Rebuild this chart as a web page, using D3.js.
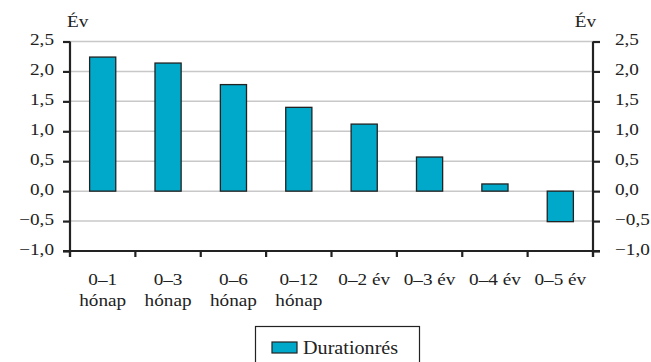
<!DOCTYPE html>
<html>
<head>
<meta charset="utf-8">
<script src="https://cdn.jsdelivr.net/npm/d3@7/dist/d3.min.js"></script>
</head>
<body style="margin:0;padding:0;background:#fff">
<svg id="chart" width="651" height="362" style="display:block"></svg>
<script>
// Duration gap by maturity bucket (years)
const categories = [
  ["0–1", "hónap"], ["0–3", "hónap"], ["0–6", "hónap"], ["0–12", "hónap"],
  ["0–2 év"], ["0–3 év"], ["0–4 év"], ["0–5 év"]
];
const values = [2.24, 2.14, 1.78, 1.40, 1.12, 0.57, 0.12, -0.51];
const yTicks = [-1.0, -0.5, 0.0, 0.5, 1.0, 1.5, 2.0, 2.5];
const unitLabel = "Év";
const seriesName = "Durationrés";

const barColor = "#00a8ca";
const ink = "#222";
const serif = "Liberation Serif";
const sx = 1.2;               // horizontal stretch of the serif lettering
const fontSize = 16;

const svg = d3.select("#chart");
const plotLeft = 70, plotRight = 593, plotTop = 41.5, plotBottom = 251;

const keys = categories.map((c, i) => i);
const x = d3.scaleBand().domain(keys).range([plotLeft, plotRight]).paddingInner(0.6).paddingOuter(0.3);
const y = d3.scaleLinear().domain([-1, 2.5]).range([plotBottom, plotTop]);
const fmt = v => d3.format(".1f")(v).replace(".", ",").replace("-", "−");

function label(sel, size) {
  return sel.attr("font-family", serif).attr("font-size", size).attr("fill", ink);
}

// gridlines
svg.append("g").selectAll("line").data(yTicks.filter(t => t > -1)).join("line")
  .attr("x1", plotLeft).attr("x2", plotRight)
  .attr("y1", d => y(d)).attr("y2", d => y(d))
  .attr("stroke", "#c8c8c8").attr("stroke-width", 1.5);

// bars
svg.append("g").selectAll("rect").data(values).join("rect")
  .attr("x", (d, i) => x(i))
  .attr("width", x.bandwidth())
  .attr("y", d => y(Math.max(0, d)))
  .attr("height", d => Math.abs(y(d) - y(0)))
  .attr("fill", barColor).attr("stroke", ink).attr("stroke-width", 1.3);

// stretch helper for labels
function stretch(sel) {
  sel.each(function () {
    const t = d3.select(this);
    const xx = +t.attr("x") || 0;
    t.attr("x", xx / sx).attr("transform", `scale(${sx},1)`);
  });
}

// left and right value axes
const yAxisL = svg.append("g").attr("transform", `translate(${plotLeft},0)`)
  .call(d3.axisLeft(y).tickValues(yTicks).tickFormat(fmt).tickSize(7).tickPadding(9).tickSizeOuter(0));
const yAxisR = svg.append("g").attr("transform", `translate(${plotRight},0)`)
  .call(d3.axisRight(y).tickValues(yTicks).tickFormat(fmt).tickSize(7).tickPadding(15).tickSizeOuter(0));

[yAxisL, yAxisR].forEach(g => {
  g.attr("font-family", serif).attr("font-size", fontSize);
  g.select(".domain").remove();
  g.append("line").attr("x1", 0).attr("x2", 0).attr("y1", plotTop).attr("y2", plotBottom + 6)
    .attr("stroke", ink).attr("stroke-width", 2.2);
  g.selectAll(".tick line").attr("stroke", ink).attr("stroke-width", 2.2);
  g.selectAll(".tick text").attr("dy", "3px").call(label, fontSize).call(stretch);
});

// bottom axis: boundaries between buckets
const step = x.step();
const bounds = d3.range(categories.length + 1).map(i => plotLeft + i * step);
const xAxis = svg.append("g");
xAxis.append("line").attr("x1", plotLeft - 7).attr("x2", plotRight + 7).attr("y1", plotBottom).attr("y2", plotBottom)
  .attr("stroke", ink).attr("stroke-width", 2.2);
xAxis.selectAll("line.tk").data(bounds).join("line").attr("class", "tk")
  .attr("x1", d => d).attr("x2", d => d).attr("y1", plotBottom).attr("y2", plotBottom + 6)
  .attr("stroke", ink).attr("stroke-width", 2.2);

// category labels
const catG = svg.append("g");
categories.forEach((lines, i) => {
  const cx = x(i) + x.bandwidth() / 2;
  lines.forEach((ln, j) => {
    catG.append("text")
      .attr("x", cx / sx).attr("y", 285 + j * 21)
      .attr("transform", `scale(${sx},1)`)
      .attr("text-anchor", "middle")
      .call(label, fontSize)
      .text(ln);
  });
});

// unit labels
svg.append("text").attr("x", 67 / sx).attr("y", 27).attr("transform", `scale(${sx},1)`)
  .call(label, fontSize).text(unitLabel);
svg.append("text").attr("x", 596 / sx).attr("y", 27).attr("transform", `scale(${sx},1)`)
  .attr("text-anchor", "end").call(label, fontSize).text(unitLabel);

// legend
const lg = svg.append("g");
lg.append("rect").attr("x", 255.5).attr("y", 326.5).attr("width", 164).attr("height", 45)
  .attr("fill", "#fff").attr("stroke", ink).attr("stroke-width", 1.2);
lg.append("rect").attr("x", 272).attr("y", 342).attr("width", 25).attr("height", 11)
  .attr("fill", barColor).attr("stroke", ink).attr("stroke-width", 1.2);
lg.append("text").attr("x", 303 / 1.12).attr("y", 354).attr("transform", "scale(1.12,1)")
  .call(label, 18).text(seriesName);
</script>
</body>
</html>
